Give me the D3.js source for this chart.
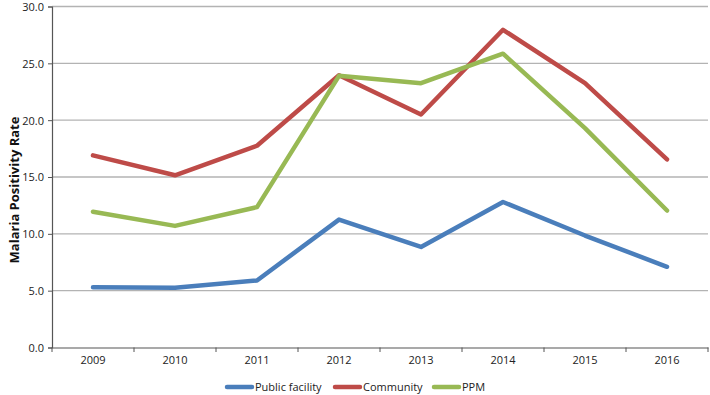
<!DOCTYPE html>
<html><head><meta charset="utf-8">
<script src="https://cdn.jsdelivr.net/npm/d3@7"></script>
<style>body{margin:0;background:#fff}svg{display:block}text{font-family:"Open Sans","Liberation Sans",sans-serif}</style>
</head><body><svg id="c" width="710" height="395"></svg>
<script>
const years = ["2009","2010","2011","2012","2013","2014","2015","2016"];
const publicFacility = [5.3, 5.25, 5.9, 11.25, 8.85, 12.8, 9.85, 7.1];
const community = [16.9, 15.15, 17.75, 23.95, 20.5, 27.95, 23.25, 16.55];
const ppm = [11.95, 10.7, 12.35, 23.9, 23.25, 25.85, 19.3, 12.05];
const yTicks = [0, 5, 10, 15, 20, 25, 30];
const seriesNames = ["Public facility", "Community", "PPM"];
const colors = ["#4a7ebb", "#be4b48", "#98b954"];

const svg = d3.select("#c");
const x = d3.scaleBand().domain(years).range([52, 708]);
const y = d3.scaleLinear().domain([0, 30]).range([347.5, 6.5]);

// gridlines
svg.append("g").selectAll("line").data(yTicks.filter(d => d > 0)).join("line")
  .attr("x1", 52).attr("x2", 708).attr("y1", d => y(d)).attr("y2", d => y(d))
  .attr("stroke", "#b3b3b3").attr("stroke-width", 1.3);

// y axis
const ya = svg.append("g").attr("transform", "translate(52,0)")
  .call(d3.axisLeft(y).tickValues(yTicks).tickFormat(d3.format(".1f")).tickSize(4).tickPadding(4));
ya.select(".domain").attr("stroke", "#555").attr("stroke-width", 1.2);
ya.selectAll(".tick line").attr("stroke", "#555");
ya.selectAll("text").attr("font-size", 11).attr("fill", "#222").attr("dy", "0.36em");

// x axis
const xa = svg.append("g").attr("transform", "translate(0,347.5)")
  .call(d3.axisBottom(x).tickSize(0).tickPadding(9));
xa.select(".domain").attr("stroke", "#555").attr("stroke-width", 1.2);
xa.selectAll("text").attr("font-size", 11).attr("fill", "#222");
svg.append("g").selectAll("line").data(years.map(d => x(d)).concat([708])).join("line")
  .attr("x1", d => d).attr("x2", d => d).attr("y1", 347.5).attr("y2", 352)
  .attr("stroke", "#555");

// y label
svg.append("text").attr("transform", "translate(18.5,190) rotate(-90)")
  .attr("text-anchor", "middle").attr("font-size", 13).attr("font-weight", "bold")
  .attr("fill", "#111").text("Malaria Positivity Rate");

// lines
const line = d3.line().x((d, i) => x(years[i]) + x.bandwidth() / 2).y(d => y(d));
[publicFacility, community, ppm].forEach((s, i) => {
  svg.append("path").datum(s).attr("d", line).attr("fill", "none")
    .attr("stroke", colors[i]).attr("stroke-width", 4.5)
    .attr("stroke-linejoin", "round").attr("stroke-linecap", "round");
});

// legend
const legX = [227, 335, 434];
const lg = svg.append("g");
seriesNames.forEach((n, i) => {
  lg.append("line").attr("x1", legX[i]).attr("x2", legX[i] + 25).attr("y1", 387).attr("y2", 387)
    .attr("stroke", colors[i]).attr("stroke-width", 4.5).attr("stroke-linecap", "round");
  lg.append("text").attr("x", legX[i] + 28).attr("y", 391).attr("font-size", 11)
    .attr("fill", "#222").text(n);
});
</script></body></html>
